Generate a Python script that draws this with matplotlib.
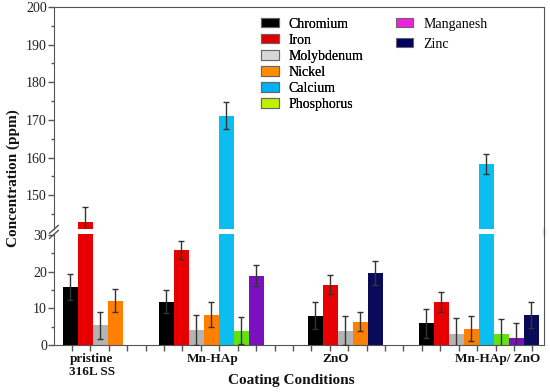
import numpy as np
import matplotlib
matplotlib.use("Agg")
import matplotlib.pyplot as plt
from matplotlib.patches import Patch
from matplotlib.lines import Line2D

plt.rcParams['font.family'] = ['Liberation Serif', 'DejaVu Serif']

groups = ['pristine\n316L SS', 'Mn-HAp', 'ZnO', 'Mn-HAp/ ZnO']
elements = ['Chromium', 'Iron', 'Molybdenum', 'Nickel',
            'Calcium', 'Phosphorus', 'Manganesh', 'Zinc']
nan = np.nan
chromium = [15.9, 11.8, 8.0, 5.9]
iron = [142.8, 26.0, 16.5, 11.7]
molybdenum = [5.4, 4.1, 3.9, 3.0]
nickel = [12.1, 8.3, 6.4, 4.4]
calcium = [nan, 171.1, nan, 158.2]
phosphorus = [nan, 3.9, nan, 3.0]
manganesh = [nan, 18.9, nan, 1.9]
zinc = [nan, nan, 19.7, 8.2]

chromium_err = [3.5, 3.2, 3.7, 3.9]
iron_err = [4.0, 2.5, 2.5, 2.8]
molybdenum_err = [3.7, 4.2, 3.9, 4.3]
nickel_err = [3.1, 3.4, 2.5, 3.4]
calcium_err = [nan, 3.6, nan, 2.7]
phosphorus_err = [nan, 3.7, nan, 4.0]
manganesh_err = [nan, 2.9, nan, 4.2]
zinc_err = [nan, nan, 3.2, 3.5]

values = [chromium, iron, molybdenum, nickel, calcium, phosphorus, manganesh, zinc]
errors = [chromium_err, iron_err, molybdenum_err, nickel_err,
          calcium_err, phosphorus_err, manganesh_err, zinc_err]

bar_colors = ['#000000', '#E80000', '#B4B4B4', '#FF8000',
              '#0CBEF0', '#66E010', '#7A10C0', '#0A0A5A']
legend_colors = ['#000000', '#E00000', '#D6D6D6', '#FF8C00',
                 '#00B0F0', '#C0F000', '#F020E0', '#000060']

# layout (slot units, one slot = one bar width)
group_start = [0.6, 7.0, 16.93, 24.33]
label_x = [2.53, 10.6, 18.8, 29.6]

fig = plt.figure(figsize=(5.5, 3.92), dpi=100)
ax_top = fig.add_axes([0.098, 0.4158, 0.891, 0.5663])
ax_bot = fig.add_axes([0.098, 0.1199, 0.891, 0.2832])

for ax in (ax_top, ax_bot):
    for gi in range(len(groups)):
        slot = 0
        for ei in range(len(elements)):
            v = values[ei][gi]
            if np.isnan(v):
                continue
            x = group_start[gi] + slot + 0.5
            ax.bar(x, v, width=1.0, color=bar_colors[ei], linewidth=0, zorder=2)
            ax.errorbar(x, v, yerr=errors[ei][gi], fmt='none', ecolor='#333333',
                        elinewidth=1.0, capsize=2.5, capthick=1.0, zorder=3)
            slot += 1
    ax.set_xlim(0, 32.67)
    for s in ax.spines.values():
        s.set_color('#555555')
    ax.tick_params(axis='y', direction='out', length=4, width=1, colors='#555555',
                   labelcolor='#222222', labelsize=10, pad=1)
    ax.tick_params(axis='y', which='minor', direction='out', length=2.5, width=1,
                   colors='#555555')

ax_top.set_ylim(141, 200)
ax_top.set_yticks([150, 160, 170, 180, 190, 200])
ax_top.set_yticks([145, 155, 165, 175, 185, 195], minor=True)
ax_top.spines['bottom'].set_visible(False)
ax_top.set_xticks([])

ax_bot.set_ylim(0, 30.3)
ax_bot.set_yticks([0, 10, 20, 30])
ax_bot.set_yticks([5, 15, 25], minor=True)
ax_bot.spines['top'].set_visible(False)
ax_bot.set_xticks(np.arange(1.2, 32.6, 1.228))
ax_bot.set_xticklabels([])
ax_bot.tick_params(axis='x', direction='out', length=4, width=1, colors='#555555')

# right frame continues across the break
fig.add_artist(Line2D([0.989, 0.989], [0.4031, 0.4158], color='#555555', lw=1))
# break marks on the left axis
fig.add_artist(Line2D([0.090, 0.106], [0.405, 0.425], color='#555555', lw=1))
fig.add_artist(Line2D([0.090, 0.106], [0.392, 0.412], color='#555555', lw=1))

# group labels
for gi, name in enumerate(groups):
    ax_bot.text(label_x[gi], -0.075, name, transform=ax_bot.get_xaxis_transform(),
                ha='center', va='top', fontsize=9.5, fontweight='bold',
                linespacing=1.1, color='#111111')

fig.text(0.53, 0.012, 'Coating Conditions', ha='center', va='bottom',
         fontsize=11, fontweight='bold', color='#111111')
fig.text(0.012, 0.545, 'Concentration (ppm)', rotation=90, ha='left', va='center',
         fontsize=11, fontweight='bold', color='#111111')

# legend: two columns as in the reference
handles = [Patch(facecolor=c, edgecolor='#666666', linewidth=0.8) for c in legend_colors]
leg1 = fig.legend(handles[:6], elements[:6], loc='upper left',
                  bbox_to_anchor=(0.475, 0.955), frameon=False, fontsize=10,
                  handlelength=1.25, handleheight=0.65, handletextpad=0.7,
                  labelspacing=0.22, borderpad=0, borderaxespad=0)
fig.add_artist(leg1)
fig.legend(handles[6:], elements[6:], loc='upper left',
           bbox_to_anchor=(0.72, 0.955), frameon=False, fontsize=10,
           handlelength=1.25, handleheight=0.65, handletextpad=0.7,
           labelspacing=0.5, borderpad=0, borderaxespad=0)

fig.savefig('out.png', dpi=100)
